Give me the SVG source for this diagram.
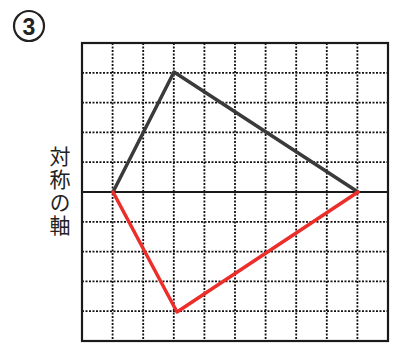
<svg xmlns="http://www.w3.org/2000/svg" width="394" height="350" viewBox="0 0 394 350">
<style>
.grid{stroke:#111;stroke-width:1.8;stroke-dasharray:2 1.5;fill:none}
.border{stroke:#1a1a1a;stroke-width:2.2;fill:none}
.axis{stroke:#1a1a1a;stroke-width:2}
.orig{stroke:#3a3a3a;stroke-width:3.5;fill:none;stroke-linejoin:round;stroke-linecap:round}
.refl{stroke:#ec2e2a;stroke-width:3.5;fill:none;stroke-linejoin:round;stroke-linecap:round}
.lbl{font-family:"Noto Sans CJK JP","Noto Sans CJK SC",sans-serif;font-size:21px;fill:#222;writing-mode:vertical-rl;letter-spacing:2px}
</style>
<rect width="394" height="350" fill="#fff"/>
<g id="title">
<circle cx="29" cy="26" r="15" fill="none" stroke="#222" stroke-width="2.2"/>
<text x="29" y="34.5" text-anchor="middle" font-family="'Liberation Sans',sans-serif" font-weight="bold" font-size="23" fill="#222">3</text>
</g>
<g id="grid">
<path class="grid" d="M112.6 43V341M143.2 43V341M173.8 43V341M204.4 43V341M235 43V341M265.6 43V341M296.2 43V341M326.8 43V341M357.4 43V341"/>
<path class="grid" d="M82 72.8H388M82 102.6H388M82 132.4H388M82 162.2H388M82 221.8H388M82 251.6H388M82 281.4H388M82 311.2H388"/>
<rect class="border" x="82" y="43" width="306" height="298"/>
</g>
<g id="axis">
<line class="axis" x1="82" y1="192" x2="388" y2="192"/>
<text class="lbl" x="60" y="146">対称の軸</text>
</g>
<g id="connectors">
<polyline id="original" class="orig" points="113,192 174,72 358,192"/>
<polyline id="reflected" class="refl" points="113,192 177,312 358,192"/>
</g>
</svg>
